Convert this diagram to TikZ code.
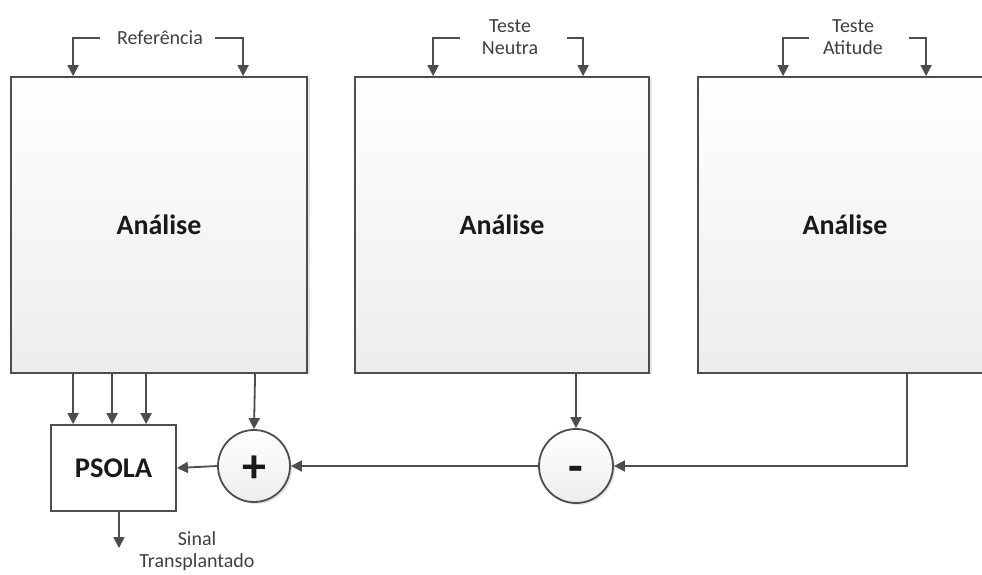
\documentclass[tikz,border=0pt]{standalone}
\usepackage{fontspec}
\setmainfont{Carlito}
\usetikzlibrary{arrows.meta,shadows,calc}
\definecolor{ln}{HTML}{4D4D4D}
\definecolor{gtop}{HTML}{FFFFFF}
\definecolor{gbot}{HTML}{EDEDED}
\begin{document}
\begin{tikzpicture}[x=1pt,y=-1pt,
  arr/.style={draw=ln,line width=1.8pt,-{Triangle[length=11pt,width=11pt]}},
  bigbox/.style={draw=ln,line width=1.8pt,top color=gtop,bottom color=gbot,
    minimum width=#1,minimum height=296pt,inner sep=0pt,
    font=\fontsize{28}{32}\selectfont\bfseries,text=black!90,
    drop shadow={shadow xshift=2.5pt,shadow yshift=-1pt,opacity=0.2,fill=gray}},
  sumnode/.style={circle,draw=ln,line width=1.8pt,top color=gtop,bottom color=gbot,
    minimum size=#1,inner sep=0pt,font=\fontsize{48}{48}\selectfont\bfseries,text=black!90,
    drop shadow={shadow xshift=2pt,shadow yshift=-2pt,opacity=0.2,fill=gray}},
  lbl/.style={font=\fontsize{20}{24}\selectfont,text=black!75,align=center,inner sep=0pt}]
\useasboundingbox (0,0) rectangle (982,574);
\fill[white] (0,0) rectangle (982,574);
% boxes
\node[bigbox=296pt] (b1) at (159,225) {Análise};
\node[bigbox=294pt] (b2) at (502,225) {Análise};
\node[bigbox=294pt] (b3) at (845,225) {Análise};
\node[draw=ln,line width=1.8pt,fill=white,minimum width=125pt,minimum height=86pt,inner sep=0pt,
  font=\fontsize{28.5}{32}\selectfont\bfseries,text=black!90] (psola) at (113.5,468) {PSOLA};
\node[sumnode=72pt] (plus) at (254,466) {\smash{\raisebox{-0.35em}{+}}};
\node[sumnode=74pt] (minus) at (576,466) {\smash{\raisebox{-0.34em}{-}}};
% top labels
\node[lbl] (ref) at (160,38) {Referência};
\node[lbl] (neu) at (510,37) {Teste\\[-2pt]Neutra};
\node[lbl] (ati) at (853,37) {Teste\\[-2pt]Atitude};
\coordinate (r1) at (100,38); \coordinate (r2) at (215,38);
\coordinate (n1) at (460,38); \coordinate (n2) at (567,38);
\coordinate (a1) at (809,38); \coordinate (a2) at (909,38);
\draw[arr] (r1) -| ([xshift=63pt]b1.north west);
\draw[arr] (r2) -| ([xshift=233pt]b1.north west);
\draw[arr] (n1) -| ([xshift=79pt]b2.north west);
\draw[arr] (n2) -| ([xshift=229pt]b2.north west);
\draw[arr] (a1) -| ([xshift=86pt]b3.north west);
\draw[arr] (a2) -| ([xshift=229pt]b3.north west);
% bottom connections
\draw[arr] ([xshift=63pt]b1.south west) -- ([xshift=63pt]b1.south west |- psola.north);
\draw[arr] ([xshift=102pt]b1.south west) -- ([xshift=102pt]b1.south west |- psola.north);
\draw[arr] ([xshift=136pt]b1.south west) -- ([xshift=136pt]b1.south west |- psola.north);
\draw[arr] ([xshift=245pt]b1.south west) -- (plus.north);
\draw[arr] (b2.south west -| minus.north) -- (minus.north);
\draw[arr] ([xshift=210pt]b3.south west) |- (minus.east);
\draw[arr] (minus.west) -- (plus.east);
\draw[arr] (plus.west) -- (psola.east);
\coordinate (out) at (119,548);
\draw[arr] (psola.south -| out) -- (out);
\node[lbl,anchor=north] (sig) at (197,531) {Sinal\\[-2pt]Transplantado};
\end{tikzpicture}
\end{document}
